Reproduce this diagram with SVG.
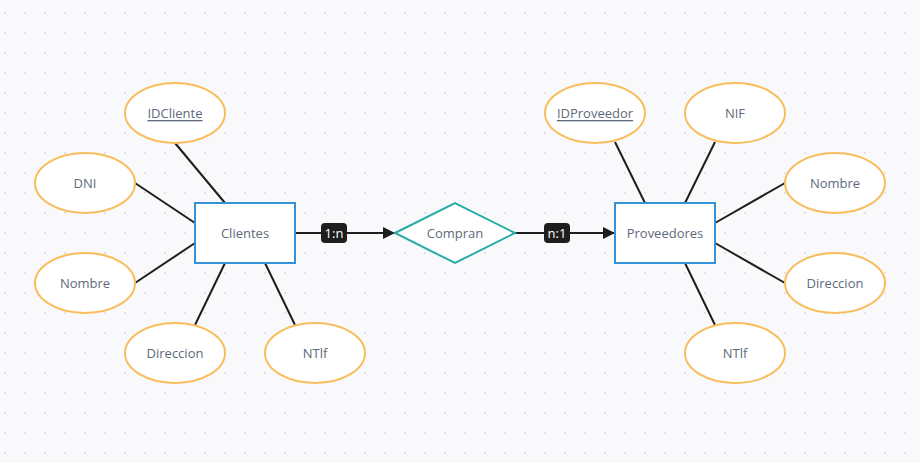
<svg xmlns="http://www.w3.org/2000/svg" width="920" height="463" viewBox="0 0 920 463">
<defs>
<pattern id="dots" x="0" y="0" width="20" height="20" patternUnits="userSpaceOnUse">
<circle cx="5" cy="13" r="1.1" fill="#dcdce0"/>
</pattern>
<marker id="arr" viewBox="0 0 12 12" refX="12" refY="6" markerWidth="12" markerHeight="12" markerUnits="userSpaceOnUse" orient="auto">
<path d="M0,0 L12,6 L0,12 Z" fill="#1e1e1e"/>
</marker>
<style>
.attr{fill:#ffffff;stroke:#f8bd5c;stroke-width:2}
.ent{fill:#ffffff;stroke:#3592d6;stroke-width:2}
.rel{fill:#ffffff;stroke:#26aca5;stroke-width:2}
.ln{stroke:#1e1e1e;stroke-width:2;fill:none}
.t{font-family:"Open Sans","Noto Sans",sans-serif;font-size:13px;fill:#5e6a7b;text-anchor:middle;dominant-baseline:central}
.u{text-decoration:underline}
.lb{fill:#1e1e1e}
.lt{font-family:"Open Sans","Noto Sans",sans-serif;font-size:13px;font-weight:500;fill:#ffffff;text-anchor:middle;dominant-baseline:central}
</style>
</defs>
<rect width="920" height="463" fill="#f9f9fb"/>
<rect width="920" height="463" fill="url(#dots)"/>
<g id="connectors">
<line class="ln" x1="175" y1="143" x2="225" y2="203"/>
<line class="ln" x1="135" y1="183" x2="195" y2="223"/>
<line class="ln" x1="135" y1="283" x2="195" y2="243"/>
<line class="ln" x1="195" y1="325" x2="225" y2="263"/>
<line class="ln" x1="295" y1="325" x2="265" y2="263"/>
<line class="ln" x1="615" y1="142" x2="645" y2="203"/>
<line class="ln" x1="715" y1="142" x2="685" y2="203"/>
<line class="ln" x1="715" y1="223" x2="785" y2="183"/>
<line class="ln" x1="715" y1="243" x2="785" y2="283"/>
<line class="ln" x1="685" y1="263" x2="715" y2="325"/>
<line class="ln" x1="295" y1="233" x2="395" y2="233" marker-end="url(#arr)"/>
<line class="ln" x1="515" y1="233" x2="615" y2="233" marker-end="url(#arr)"/>
<g id="label-1n"><rect class="lb" x="321" y="223" width="26" height="20" rx="4"/><text class="lt" x="334" y="233">1:n</text></g>
<g id="label-n1"><rect class="lb" x="544" y="223" width="26" height="20" rx="4"/><text class="lt" x="557" y="233">n:1</text></g>
</g>
<g id="Clientes"><rect class="ent" x="195" y="203" width="100" height="60"/><text class="t" x="245" y="233">Clientes</text></g>
<g id="IDCliente"><ellipse class="attr" cx="175" cy="113" rx="50" ry="30"/><text class="t u" x="175" y="113">IDCliente</text></g>
<g id="DNI"><ellipse class="attr" cx="85" cy="183" rx="50" ry="30"/><text class="t" x="85" y="183">DNI</text></g>
<g id="NombreC"><ellipse class="attr" cx="85" cy="283" rx="50" ry="30"/><text class="t" x="85" y="283">Nombre</text></g>
<g id="DireccionC"><ellipse class="attr" cx="175" cy="353" rx="50" ry="30"/><text class="t" x="175" y="353">Direccion</text></g>
<g id="NTlfC"><ellipse class="attr" cx="315" cy="353" rx="50" ry="30"/><text class="t" x="315" y="353">NTlf</text></g>
<g id="Compran"><polygon class="rel" points="395,233 455,203 515,233 455,263"/><text class="t" x="455" y="233">Compran</text></g>
<g id="Proveedores"><rect class="ent" x="615" y="203" width="100" height="60"/><text class="t" x="665" y="233">Proveedores</text></g>
<g id="IDProveedor"><ellipse class="attr" cx="595" cy="113" rx="50" ry="30"/><text class="t u" x="595" y="113">IDProveedor</text></g>
<g id="NIF"><ellipse class="attr" cx="735" cy="113" rx="50" ry="30"/><text class="t" x="735" y="113">NIF</text></g>
<g id="NombreP"><ellipse class="attr" cx="835" cy="183" rx="50" ry="30"/><text class="t" x="835" y="183">Nombre</text></g>
<g id="DireccionP"><ellipse class="attr" cx="835" cy="283" rx="50" ry="30"/><text class="t" x="835" y="283">Direccion</text></g>
<g id="NTlfP"><ellipse class="attr" cx="735" cy="353" rx="50" ry="30"/><text class="t" x="735" y="353">NTlf</text></g>
</svg>
